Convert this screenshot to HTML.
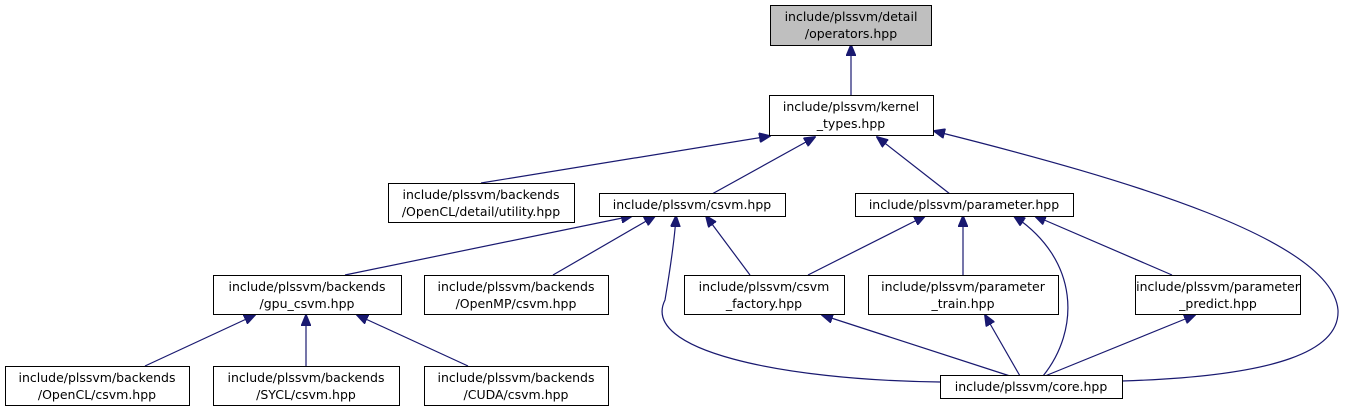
<!DOCTYPE html>
<html><head><meta charset="utf-8"><style>
html,body{margin:0;padding:0;background:#fff;}
text{font-family:"DejaVu Sans","Liberation Sans",sans-serif;font-size:12.5px;fill:#000;text-anchor:middle;}
</style></head><body>
<svg width="1357" height="409" viewBox="0 0 1357 409" xmlns="http://www.w3.org/2000/svg">
<defs>
<marker id="a" markerWidth="12" markerHeight="10" refX="11" refY="5" orient="auto" markerUnits="userSpaceOnUse">
<path d="M0,0 L12,5 L0,10 Z" fill="#191970" stroke="#191970"/>
</marker>
</defs>
<g fill="none" stroke="#191970" stroke-width="1.2" marker-end="url(#a)">
<path d="M851,95 L851,45"/>
<path d="M481,183 L770,136"/>
<path d="M712,194 L815,137"/>
<path d="M950,194 L877,137"/>
<path d="M1122,381 C1280,376 1340,350 1338,310 C1332,240 1130,180 934,131"/>
<path d="M345,275 L632,216"/>
<path d="M553,275 L655,216"/>
<path d="M940,382 C780,380 640,350 665,300 C670,270 675,235 676,216"/>
<path d="M750,275 L706,216"/>
<path d="M808,275 L925,216"/>
<path d="M963,275 L963,216"/>
<path d="M1043,376 C1080,330 1080,260 1014,216"/>
<path d="M1172,275 L1035,216"/>
<path d="M1010,376 L822,315"/>
<path d="M1020,376 L985,315"/>
<path d="M1045,376 L1195,315"/>
<path d="M145,366 L255,315"/>
<path d="M306,366 L306,315"/>
<path d="M468,366 L357,315"/>
</g>
<g stroke="#000" stroke-width="1" fill="#fff">
<rect x="770.5" y="5.5" width="161" height="40" fill="#bfbfbf"/>
<rect x="769.5" y="95.5" width="164" height="40"/>
<rect x="388.5" y="183.5" width="186" height="39"/>
<rect x="599.5" y="193.5" width="186" height="23"/>
<rect x="855.5" y="193.5" width="218" height="23"/>
<rect x="213.5" y="275.5" width="188" height="39"/>
<rect x="424.5" y="275.5" width="184" height="39"/>
<rect x="684.5" y="275.5" width="160" height="39"/>
<rect x="868.5" y="275.5" width="190" height="39"/>
<rect x="1135.5" y="275.5" width="165" height="39"/>
<rect x="5.5" y="366.5" width="184" height="39"/>
<rect x="213.5" y="366.5" width="186" height="39"/>
<rect x="424.5" y="366.5" width="184" height="39"/>
<rect x="940.5" y="375.5" width="182" height="23"/>
</g>
<text x="851" y="21">include/plssvm/detail</text><text x="851" y="38">/operators.hpp</text>
<text x="851" y="111">include/plssvm/kernel</text><text x="851" y="128">_types.hpp</text>
<text x="481" y="199">include/plssvm/backends</text><text x="481" y="216">/OpenCL/detail/utility.hpp</text>
<text x="692" y="209">include/plssvm/csvm.hpp</text>
<text x="964" y="209">include/plssvm/parameter.hpp</text>
<text x="307" y="291">include/plssvm/backends</text><text x="307" y="308">/gpu_csvm.hpp</text>
<text x="516" y="291">include/plssvm/backends</text><text x="516" y="308">/OpenMP/csvm.hpp</text>
<text x="764" y="291">include/plssvm/csvm</text><text x="764" y="308">_factory.hpp</text>
<text x="963" y="291">include/plssvm/parameter</text><text x="963" y="308">_train.hpp</text>
<text x="1218" y="291">include/plssvm/parameter</text><text x="1218" y="308">_predict.hpp</text>
<text x="97" y="382">include/plssvm/backends</text><text x="97" y="399">/OpenCL/csvm.hpp</text>
<text x="306" y="382">include/plssvm/backends</text><text x="306" y="399">/SYCL/csvm.hpp</text>
<text x="516" y="382">include/plssvm/backends</text><text x="516" y="399">/CUDA/csvm.hpp</text>
<text x="1031" y="391">include/plssvm/core.hpp</text>
</svg>
</body></html>
